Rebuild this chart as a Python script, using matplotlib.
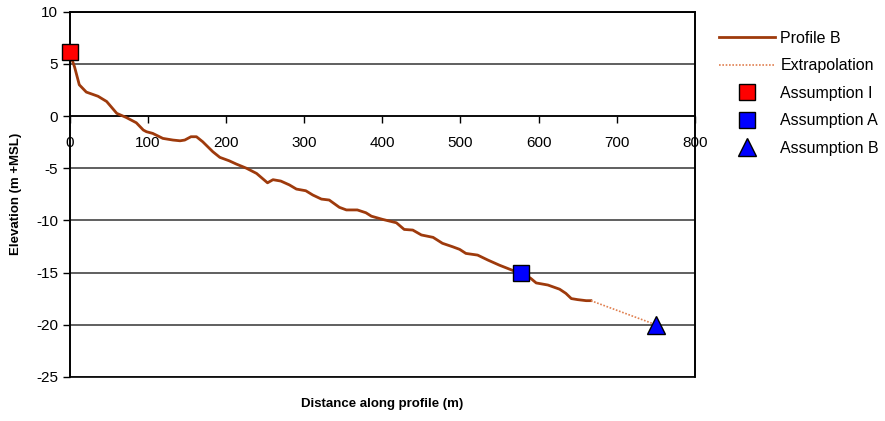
import matplotlib.pyplot as plt
from matplotlib.patches import Rectangle

plt.rcParams['font.family'] = ['Liberation Sans', 'DejaVu Sans']
plt.rcParams['axes.unicode_minus'] = False

# profile B
dist = [0, 6, 12, 21, 36, 47, 60, 72, 85, 94, 98, 106, 119, 132, 141, 147, 155, 162,
        170, 183, 192, 204, 213, 226, 239, 253, 260, 270, 281, 290, 302, 311, 322,
        332, 345, 354, 368, 379, 386, 400, 418, 428, 439, 450, 465, 477, 490, 499,
        507, 522, 535, 550, 567, 578, 590, 597, 612, 627, 635, 642, 650, 661, 667]
elev = [6.0, 4.7, 3.0, 2.3, 1.9, 1.4, 0.26, -0.13, -0.64, -1.34, -1.5, -1.66, -2.14,
        -2.3, -2.37, -2.3, -1.98, -1.98, -2.46, -3.42, -3.96, -4.29, -4.6, -5.0, -5.5,
        -6.4, -6.1, -6.23, -6.6, -7.0, -7.16, -7.57, -7.96, -8.05, -8.75, -9.0, -9.0,
        -9.27, -9.6, -9.9, -10.23, -10.87, -10.93, -11.4, -11.63, -12.2, -12.53, -12.78,
        -13.17, -13.33, -13.8, -14.3, -14.8, -15.0, -15.56, -16.0, -16.2, -16.6, -17.0,
        -17.5, -17.6, -17.7, -17.7]

extrap_x = [667, 750]
extrap_y = [-17.7, -20]

assump_i = (0, 6.1)
assump_a = (578, -15)
assump_b = (750, -20)

brown = '#9E3A0C'

fig = plt.figure(figsize=(8.85, 4.21), dpi=100)
ax = fig.add_axes([0.079, 0.105, 0.706, 0.867])

ax.set_xlim(0, 800)
ax.set_ylim(-25, 10)
ax.set_xticks(range(0, 801, 100))
ax.set_yticks(range(-25, 11, 5))

ax.yaxis.grid(True, color='#444444', linewidth=1.2)
ax.set_axisbelow(True)

ax.plot(dist, elev, color=brown, linewidth=2, label='Profile B', zorder=3)
ax.plot(extrap_x, extrap_y, color='#E08050', linewidth=1.2, linestyle=(0, (1, 1)),
        label='Extrapolation', zorder=3)
ax.plot(*assump_i, linestyle='none', marker='s', markersize=11, color='#FF0000',
        markeredgecolor='black', markeredgewidth=1, label='Assumption I', zorder=6,
        clip_on=False)
ax.plot(*assump_a, linestyle='none', marker='s', markersize=11, color='#0000FF',
        markeredgecolor='black', markeredgewidth=1, label='Assumption A', zorder=6,
        clip_on=False)
ax.plot(*assump_b, linestyle='none', marker='^', markersize=13, color='#0000FF',
        markeredgecolor='black', markeredgewidth=1, label='Assumption B', zorder=6,
        clip_on=False)

# x axis crosses at 0
ax.spines['bottom'].set_position(('data', 0))
for s in ax.spines.values():
    s.set_linewidth(1.2)
ax.add_patch(Rectangle((0, 0), 1, 1, transform=ax.transAxes, fill=False,
                       edgecolor='black', linewidth=1.2, clip_on=False, zorder=5))

ax.tick_params(axis='both', direction='out', length=5, width=1, labelsize=11,
               colors='black')
ax.tick_params(axis='x', pad=9)

ax.set_xlabel('Distance along profile (m)', fontsize=9.5, fontweight='bold')
ax.xaxis.set_label_coords(0.5, -0.075)
ax.xaxis.label.set_va('center')
ax.set_ylabel('Elevation (m +MSL)', fontsize=9.5, fontweight='bold')
ax.yaxis.set_label_coords(-0.086, 0.5)
ax.yaxis.label.set_va('center')

fig.legend(loc='upper left', bbox_to_anchor=(0.805, 0.942), frameon=False,
           fontsize=11.5, handlelength=3.5, handletextpad=0.35, labelspacing=0.78,
           borderaxespad=0)

fig.savefig('out.png', dpi=100)
